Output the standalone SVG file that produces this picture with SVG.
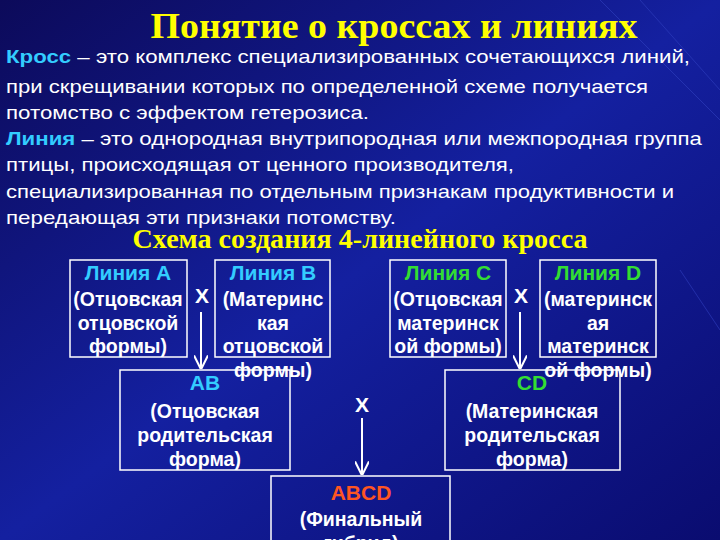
<svg xmlns="http://www.w3.org/2000/svg" width="720" height="540" viewBox="0 0 720 540">
<defs>
<linearGradient id="bg" x1="0" y1="0" x2="1" y2="1">
<stop offset="0" stop-color="#0c0a5a"/><stop offset="0.5" stop-color="#1420a0"/><stop offset="1" stop-color="#0a0c70"/>
</linearGradient>
<marker id="ar" viewBox="0 0 10 10" refX="9" refY="5" markerWidth="7" markerHeight="7" orient="auto"><path d="M0,0 L10,5 L0,10" fill="none" stroke="#fff" stroke-width="1.5"/></marker>
</defs>
<style>
.t{font-family:"Liberation Sans",Arial,sans-serif;font-size:19px;fill:#fff}
.h{font-family:"Liberation Serif","Times New Roman",serif;font-weight:bold;fill:#ffff00}
.b{font-family:"Liberation Sans",Arial,sans-serif;font-weight:bold;font-size:19.5px;fill:#fff;text-anchor:middle}
.big{font-size:21px}
.box{fill:none;stroke:#fff;stroke-width:1.5}
.cy{fill:#33ccff}.gr{fill:#33dd33}.or{fill:#ff5522}
.ln{stroke:#fff;stroke-width:2;fill:none}
</style>
<rect width="720" height="540" fill="url(#bg)"/>
<path d="M600,0 L720,120 M640,0 L720,90 M680,270 L720,330" stroke="#3040c0" stroke-width="1" opacity="0.6"/>
<text class="h" x="394" y="38" font-size="36" text-anchor="middle" textLength="487" lengthAdjust="spacingAndGlyphs">Понятие о кроссах и линиях</text>
<text class="t" x="6" y="63" textLength="684" lengthAdjust="spacingAndGlyphs"><tspan class="cy" font-weight="bold">Кросс</tspan> – это комплекс специализированных сочетающихся линий,</text>
<text class="t" x="6" y="93" textLength="642" lengthAdjust="spacingAndGlyphs">при скрещивании которых по определенной схеме получается</text>
<text class="t" x="6" y="119" textLength="363" lengthAdjust="spacingAndGlyphs">потомство с эффектом гетерозиса.</text>
<text class="t" x="6" y="145" textLength="696" lengthAdjust="spacingAndGlyphs"><tspan class="cy" font-weight="bold">Линия</tspan> – это однородная внутрипородная или межпородная группа</text>
<text class="t" x="6" y="171" textLength="508" lengthAdjust="spacingAndGlyphs">птицы, происходящая от ценного производителя,</text>
<text class="t" x="6" y="198" textLength="668" lengthAdjust="spacingAndGlyphs">специализированная по отдельным признакам продуктивности и</text>
<text class="t" x="6" y="224" textLength="390" lengthAdjust="spacingAndGlyphs">передающая эти признаки потомству.</text>
<text class="h" x="360" y="248" font-size="27" text-anchor="middle" textLength="455" lengthAdjust="spacingAndGlyphs">Схема создания 4-линейного кросса</text>
<g id="connectors">
<line class="ln" x1="201" y1="312" x2="201" y2="368" marker-end="url(#ar)"/>
<line class="ln" x1="520" y1="312" x2="520" y2="368" marker-end="url(#ar)"/>
<line class="ln" x1="362" y1="418" x2="362" y2="474" marker-end="url(#ar)"/>
<text class="b big" x="202" y="303">X</text>
<text class="b big" x="521" y="303">X</text>
<text class="b big" x="362" y="412">X</text>
</g>
<g id="lineA"><rect class="box" x="70" y="260" width="117" height="97"/>
<text class="b big cy" x="128" y="280">Линия A</text>
<text class="b" x="128" y="306">(Отцовская</text><text class="b" x="128" y="330">отцовской</text><text class="b" x="128" y="353">формы)</text></g>
<g id="lineB"><rect class="box" x="215" y="260" width="115" height="97"/>
<text class="b big cy" x="273" y="280">Линия B</text>
<text class="b" x="273" y="306">(Материнс</text><text class="b" x="273" y="330">кая</text><text class="b" x="273" y="353">отцовской</text><text class="b" x="273" y="377">формы)</text></g>
<g id="lineC"><rect class="box" x="390" y="260" width="116" height="97"/>
<text class="b big gr" x="448" y="280">Линия C</text>
<text class="b" x="448" y="306">(Отцовская</text><text class="b" x="448" y="330">материнск</text><text class="b" x="448" y="353">ой формы)</text></g>
<g id="lineD"><rect class="box" x="540" y="260" width="116" height="97"/>
<text class="b big gr" x="598" y="280">Линия D</text>
<text class="b" x="598" y="306">(материнск</text><text class="b" x="598" y="330">ая</text><text class="b" x="598" y="353">материнск</text><text class="b" x="598" y="377">ой формы)</text></g>
<g id="AB"><rect class="box" x="120" y="370" width="170" height="100"/>
<text class="b big cy" x="205" y="390">AB</text>
<text class="b" x="205" y="418">(Отцовская</text><text class="b" x="205" y="442">родительская</text><text class="b" x="205" y="466">форма)</text></g>
<g id="CD"><rect class="box" x="445" y="370" width="175" height="100"/>
<text class="b big gr" x="532" y="390">CD</text>
<text class="b" x="532" y="418">(Материнская</text><text class="b" x="532" y="442">родительская</text><text class="b" x="532" y="466">форма)</text></g>
<g id="ABCD"><rect class="box" x="271" y="476" width="179" height="80"/>
<text class="b big or" x="361" y="500">ABCD</text>
<text class="b" x="361" y="526">(Финальный</text><text class="b" x="361" y="550">гибрид)</text></g>
</svg>
